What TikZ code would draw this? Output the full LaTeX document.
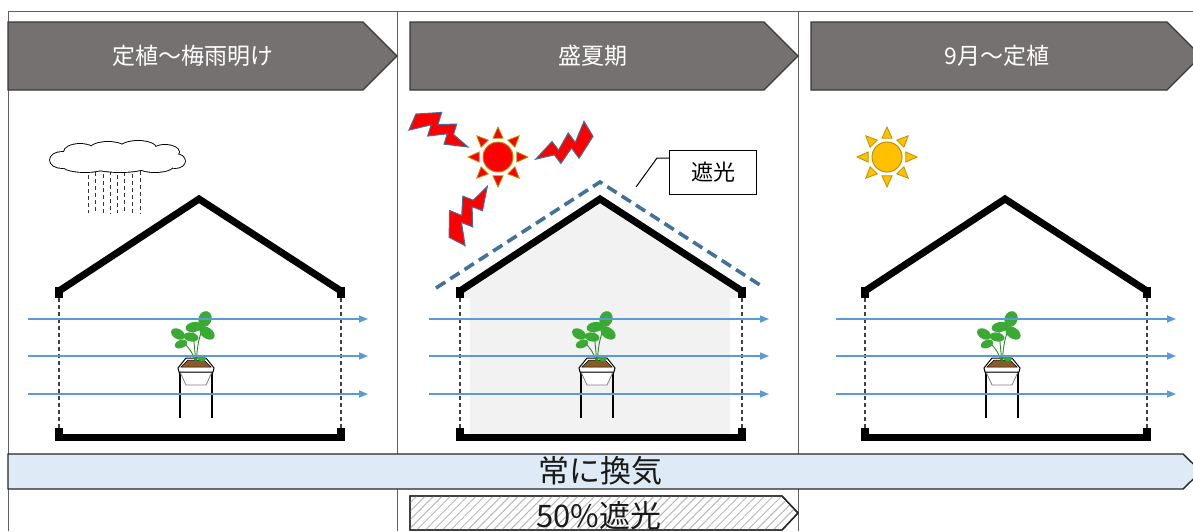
\documentclass[tikz,border=0pt]{standalone}
\usepackage{fontspec}
\newfontfamily\jp{Noto Sans CJK JP}
\usetikzlibrary{arrows.meta,patterns.meta}
\definecolor{hdr}{HTML}{767171}
\definecolor{hdrline}{HTML}{3A3838}
\definecolor{vent}{HTML}{DEEBF7}
\definecolor{flowc}{HTML}{5B9BD5}
\definecolor{netc}{HTML}{41719C}
\definecolor{inside}{HTML}{F2F2F2}
\definecolor{leafc}{HTML}{3AAA35}
\definecolor{soil}{HTML}{8B5A2B}
\definecolor{sunedge}{HTML}{BF9000}
\definecolor{sunyellow}{HTML}{FFC000}
\definecolor{sunred}{HTML}{FF0000}

\tikzset{
  frameline/.style={draw=hdrline!80, line width=0.9},
  header/.style={fill=hdr, draw=hdrline, line width=1.2},
  headtext/.style={text=white, font=\jp\fontsize{23}{26}\selectfont},
  roofline/.style={line width=7, line join=miter},
  wallgap/.style={draw=black!75, line width=1.2, dash pattern=on 4pt off 3pt},
  flow/.style={draw=flowc, line width=1.6, -{Triangle[length=9pt,width=7pt]}},
  netline/.style={draw=netc, line width=3.6, dash pattern=on 11pt off 6pt},
  stem/.style={draw=leafc!80!black, line width=0.9},
  leaf/.style={fill=leafc},
  bolt/.style={fill=sunred, draw=netc, line width=1},
  rain/.style={draw=black!80, line width=1, dash pattern=on 4pt off 3pt},
  banner/.style={draw=black!85, line width=1.4},
  bannertext/.style={font=\jp\fontsize{31}{34}\selectfont, text=black!90},
  plant/.pic={
    % stand legs
    \draw[line width=1.1] (-16,2) -- (-16,48) (16,2) -- (16,48);
    % lower tray
    \filldraw[fill=white, draw=gray, line width=0.8] (-16,2) -- (-10,15) -- (10,15) -- (16,2) -- cycle;
    % pot rim and soil
    \filldraw[fill=white, draw=black, line width=1] (-18,-2) -- (-10,-12) -- (10,-12) -- (18,-2) -- (17,2) -- (-17,2) -- cycle;
    \filldraw[fill=soil, draw=black, line width=0.5] (-15,-3) -- (-8,-10) -- (8,-10) -- (15,-3) -- cycle;
    % stems
    \draw[stem] (0,-7) .. controls (-4,-18) .. (-14,-30);
    \draw[stem] (0,-7) .. controls (2,-28) .. (8,-47);
    \draw[stem] (0,-7) .. controls (-1,-22) .. (-3,-38);
    % leaves
    \fill[leaf, rotate around={-30:(-18,-36)}] (-18,-36) ellipse (7.5 and 5);
    \fill[leaf, rotate around={20:(-15,-26)}] (-15,-26) ellipse (6.5 and 4);
    \fill[leaf, rotate around={-10:(-5,-33)}] (-5,-33) ellipse (7.5 and 4.5);
    \fill[leaf, rotate around={10:(-2,-43)}] (-2,-43) ellipse (8.5 and 5);
    \fill[leaf, rotate around={-20:(9,-51)}] (9,-51) ellipse (6.5 and 8);
    \fill[leaf, rotate around={-35:(11,-37)}] (11,-37) ellipse (8.5 and 5.5);
    \fill[leaf, rotate around={-20:(5,-12)}] (5,-12) ellipse (5 and 3);
  }
}

% greenhouse cross-section, shifted right by #1
\newcommand\greenhouse[1]{%
  \begin{scope}[xshift=#1]
    \draw[roofline] (59,291) -- (199,199) -- (341,291);
    \fill (55,287) rectangle (63,298);
    \fill (337,287) rectangle (345,298);
    \draw[wallgap] (59,298) -- (59,428);
    \draw[wallgap] (341,298) -- (341,428);
    \fill (55,428) rectangle (63,441);
    \fill (337,428) rectangle (345,441);
    \fill (55,434) rectangle (345,441);
  \end{scope}}

% three air-flow arrows, shifted right by #1
\newcommand\airflow[1]{%
  \begin{scope}[xshift=#1]
    \draw[flow] (28,319) -- (368,319);
    \draw[flow] (28,356) -- (368,356);
    \draw[flow] (28,394) -- (368,394);
  \end{scope}}

% sun at (#1,#2) with fill #3
\newcommand\sunshape[3]{%
  \begin{scope}[shift={(#1,#2)}]
    \foreach \a in {0,45,...,315}
      \filldraw[fill=#3, draw=sunedge, line width=0.8] (\a:30) -- (\a+15:19.5) -- (\a-15:19.5) -- cycle;
    \filldraw[fill=#3, draw=sunedge, line width=1] (0,0) circle (15);
  \end{scope}}

% lightning bolt: tail at (#1,#2), direction #3 degrees, length #4
\newcommand\boltshape[4]{%
  \begin{scope}[shift={(#1,#2)}, rotate=#3, xscale=#4, yscale=#4*1.6]
    \filldraw[bolt] (0,-0.10) -- (0.38,-0.22) -- (0.40,-0.09) -- (0.68,-0.17) -- (0.70,-0.06)
      -- (1,0) -- (0.62,0.07) -- (0.60,-0.04) -- (0.32,0.06) -- (0.30,-0.06) -- (0,0.08) -- cycle;
  \end{scope}}

\begin{document}
\begin{tikzpicture}[x=1pt,y=-1pt]
\useasboundingbox (0,0) rectangle (1193,531);
\clip (0,0) rectangle (1193,531);
\fill[white] (0,0) rectangle (1193,531);

% table frame
\draw[frameline] (8,531) -- (8,11) -- (1193,11);
\draw[frameline] (397,11) -- (397,531);
\draw[frameline] (798,11) -- (798,531);

% period headers
\path[header] (8,22) -- (363,22) -- (397,56) -- (363,90) -- (8,90) -- cycle;
\path[header] (410,22) -- (764,22) -- (798,56) -- (764,90) -- (410,90) -- cycle;
\path[header] (811,22) -- (1167,22) -- (1201,56) -- (1167,90) -- (811,90) -- cycle;
\node[headtext] (h1) at (193,56) {定植～梅雨明け};
\node[headtext] (h2) at (593,56) {盛夏期};
\node[headtext] (h3) at (997,56) {9月～定植};

% rain cloud
\foreach \x/\o in {88/0,95/3.5,103/1,110/4.5,117/0,124/3.5,132/1,140/4.5}
  \draw[rain, dash phase=\o pt] (\x,168) -- (\x,213);
\foreach \cx/\cy/\rx/\ry in {62/160/12/8, 80/152/16/8, 108/149/18/7, 138/148/18/7, 165/152/14/7, 175/161/10/7, 155/166/18/6, 120/165/30/7, 85/166/22/6}
  \draw[line width=1.8] (\cx,\cy) ellipse (\rx pt and \ry pt);
\foreach \cx/\cy/\rx/\ry in {62/160/12/8, 80/152/16/8, 108/149/18/7, 138/148/18/7, 165/152/14/7, 175/161/10/7, 155/166/18/6, 120/165/30/7, 85/166/22/6, 118/158/52/9}
  \fill[white] (\cx,\cy) ellipse (\rx pt and \ry pt);

% shaded interior of the midsummer house
\fill[inside] (463,298) -- (463,292) -- (600,204) -- (737,292) -- (737,298) -- (730,298)
  -- (730,434) -- (470,434) -- (470,298) -- cycle;

% houses
\greenhouse{0}
\greenhouse{401}
\greenhouse{806}

% shading net over the roof
\draw[netline] (436,288) -- (600,182) -- (760,285);

% callout
\node[draw, line width=1, minimum width=87pt, minimum height=44pt, inner sep=0pt,
  font=\jp\fontsize{22}{25}\selectfont] (shade) at (713,172) {遮光};
\coordinate (knee) at (657,158);
\draw[line width=1] (636,187) -- (knee) -- (knee -| shade.west);

% strong sun and heat
\sunshape{498}{157}{sunred}
\boltshape{412}{123}{-23.2}{61}
\boltshape{588}{128}{210.8}{61}
\boltshape{458}{242}{62.2}{63}

% mild sun
\sunshape{887}{157}{sunyellow}

% plants on stands
\pic at (196,370) {plant};
\pic at (597,370) {plant};
\pic at (1002,370) {plant};

% ventilation
\airflow{0}
\airflow{401}
\airflow{808}

% bottom bars
\path[banner, fill=vent] (8,454) -- (1183,454) -- (1201,471.5) -- (1183,489) -- (8,489) -- cycle;
\node[bannertext] (vent) at (600,471) {常に換気};
\path[banner, fill=white] (410,496) -- (782,496) -- (798,513) -- (782,530) -- (410,530) -- cycle;
\path[pattern={Lines[angle=45,distance=6pt,line width=1pt]}, pattern color=gray!55]
  (410,496) -- (782,496) -- (798,513) -- (782,530) -- (410,530) -- cycle;
\path[banner] (410,496) -- (782,496) -- (798,513) -- (782,530) -- (410,530) -- cycle;
\node[bannertext] (shd) at (599,516) {50\%遮光};
\end{tikzpicture}
\end{document}
